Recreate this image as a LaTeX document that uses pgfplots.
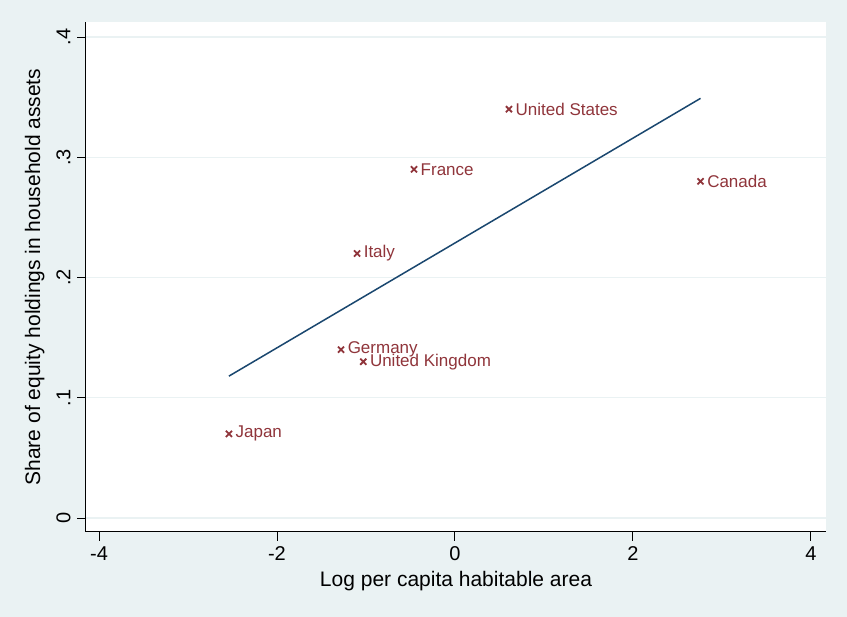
\documentclass[border=0pt]{standalone}
\usepackage{pgfplots}
\pgfplotsset{compat=1.18}
\usepackage{fontspec}
\setmainfont{Liberation Sans}

\definecolor{graphbg}{RGB}{234,242,243}
\definecolor{gridc}{RGB}{234,242,243}
\definecolor{maroonc}{RGB}{144,53,59}
\definecolor{navyc}{RGB}{26,71,111}

\begin{document}
\begin{tikzpicture}
\fill[graphbg] (0,0) rectangle (847pt,617pt);
\begin{axis}[
  at={(86pt,85pt)}, anchor=south west,
  scale only axis,
  width=740pt, height=510pt,
  xmin=-4.146, xmax=4.17,
  ymin=-0.0116, ymax=0.4125,
  axis x line*=bottom, axis y line*=left,
  axis line style={-, black, line width=1pt},
  axis background/.style={fill=white},
  xtick={-4,-2,0,2,4},
  xticklabels={-4,-2,0,2,4},
  ytick={0,0.1,0.2,0.3,0.4},
  yticklabels={0,.1,.2,.3,.4},
  tick align=outside,
  major tick length=9pt,
  tick style={black, line width=0.9pt},
  ymajorgrids,
  major grid style={gridc, line width=1.3pt},
  ticklabel style={font=\fontsize{20}{23}\selectfont},
  xticklabel style={yshift=-2pt},
  yticklabel style={rotate=90, anchor=south, yshift=3pt},
  xlabel={Log per capita habitable area},
  ylabel={Share of equity holdings in household assets},
  label style={font=\fontsize{21}{24}\selectfont},
  xlabel style={yshift=-4pt},
  ylabel style={yshift=5pt},
  clip=false,
]
% fitted line
\addplot[navyc, line width=1.5pt] coordinates {(-2.54,0.118) (2.76,0.349)};
% countries
\addplot[only marks, mark=x, mark size=4.3pt, maroonc, line width=1.8pt,
  nodes near coords, point meta=explicit symbolic,
  nodes near coords style={anchor=west, xshift=2.5pt, maroonc,
    font=\fontsize{17}{20}\selectfont}]
  table[meta=label] {
x y label
0.607 0.34 {United States}
-0.46 0.29 France
2.76 0.28 Canada
-1.10 0.22 Italy
-1.28 0.14 Germany
-1.03 0.13 {United Kingdom}
-2.54 0.07 Japan
};
\end{axis}
\pgfresetboundingbox
\useasboundingbox (0,0) rectangle (847pt,617pt);
\end{tikzpicture}
\end{document}
